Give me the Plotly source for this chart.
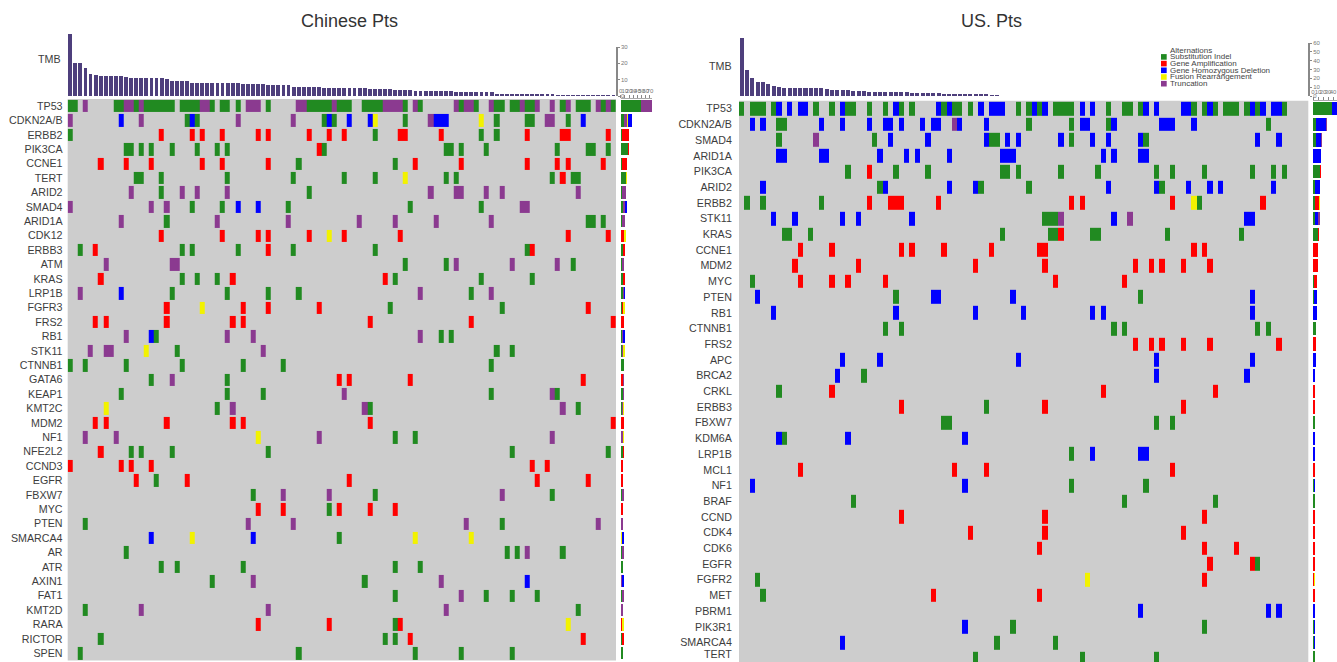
import numpy as np
import plotly.graph_objects as go

TYPE_NAMES = ["Substitution Indel", "Gene Amplification", "Gene Homozygous Deletion", "Fusion Rearrangement", "Truncation"]
TYPE_COLORS = ["#218a21", "#ff0000", "#0000ff", "#f2f200", "#8b3a90"]

CN_GENES = ["TP53", "CDKN2A/B", "ERBB2", "PIK3CA", "CCNE1", "TERT", "ARID2", "SMAD4", "ARID1A", "CDK12", "ERBB3", "ATM", "KRAS",
            "LRP1B", "FGFR3", "FRS2", "RB1", "STK11", "CTNNB1", "GATA6", "KEAP1", "KMT2C", "MDM2", "NF1", "NFE2L2", "CCND3",
            "EGFR", "FBXW7", "MYC", "PTEN", "SMARCA4", "AR", "ATR", "AXIN1", "FAT1", "KMT2D", "RARA", "RICTOR", "SPEN"]
CN_TMB = [37.7, 20.4, 20.4, 17, 13.5, 12.7, 12.3, 12.3, 12.3, 12.3, 12.3, 11.7, 11.2, 11.2, 11.2, 11.2, 11.2, 10.8,
          10.8, 10.2, 9.4, 9, 9, 9, 8, 8, 8, 8, 8, 8, 8, 8, 8, 8, 7.5, 7.5, 7.5, 7.5, 7.2, 6.7, 6.7, 6.7, 6.7, 6.7,
          5.6, 5.6, 5.6, 5.6, 5.6, 5.6, 4.6, 4.6, 4.6, 4.6, 4.6, 4.6, 4.6, 4.6, 4.6, 4.2, 4.2, 4.2, 4.2, 4.2,
          3.8, 3.8, 3.8, 3.8, 3.1, 3.1, 3.1, 3.1, 3.1, 3.1, 3.1, 3.1, 2.5, 2.5, 2.5, 2.5, 2.5, 2.5, 2.5, 2.5,
          1.3, 1.3, 1.3, 1.3, 1.3, 1.3, 1.3, 1.3, 1.3, 1.3, 1.3, 1.3,
          0.4, 0.4, 0.4, 0.4, 0.4, 0.4, 0.4, 0.4, 0.4, 0.4, 0.4, 0.4]
CN_SUB = {
    "TP53": [0, 1, 9, 10, 13, 15, 16, 17, 18, 19, 20, 22, 23, 24, 25, 28, 30, 31, 33, 39, 47, 48, 49, 50, 51, 53, 54, 55, 58, 59, 60, 61, 66, 69, 77, 80, 84, 85, 87, 88, 90, 91, 97, 100, 101, 102, 105, 107],
    "CDKN2A/B": [23, 25, 50, 52, 66, 84, 90, 91, 98],
    "ERBB2": [0, 60, 81, 84],
    "PIK3CA": [11, 12, 14, 16, 20, 25, 29, 31, 50, 74, 75, 77, 82, 96, 102, 103, 106],
    "CCNE1": [45, 64],
    "TERT": [13, 14, 18, 31, 44, 54, 60, 74, 76, 95, 99, 100],
    "ARID2": [18, 47],
    "SMAD4": [24, 30, 43, 67, 81],
    "ARID1A": [19, 102, 103, 105],
    "ERBB3": [2, 22, 24, 33, 44, 60, 90],
    "ATM": [66, 74, 99],
    "KRAS": [22, 25, 29, 64, 81, 91],
    "LRP1B": [20, 31, 39, 45, 79],
    "FGFR3": [63, 85],
    "RB1": [17, 73, 75],
    "STK11": [21, 84, 87],
    "CTNNB1": [0, 3, 11, 22, 34, 42, 83],
    "GATA6": [16, 31],
    "KEAP1": [10, 31, 38, 83, 96],
    "KMT2C": [29, 59, 100],
    "NF1": [64, 68],
    "NFE2L2": [12, 14, 20, 39, 87, 106],
    "EGFR": [17],
    "FBXW7": [36, 60, 95],
    "MYC": [51],
    "PTEN": [3, 85],
    "SMARCA4": [53],
    "AR": [11, 86, 88, 97],
    "ATR": [18, 21, 34, 64, 69],
    "AXIN1": [28, 58],
    "FAT1": [64, 82, 87, 92],
    "KMT2D": [3, 100],
    "RARA": [64],
    "RICTOR": [6, 62, 64],
    "SPEN": [2, 45, 68, 77, 87],
}
CN_AMP = {
    "ERBB2": [18, 24, 26, 30, 37, 39, 47, 51, 54, 65, 66, 73, 90, 97, 98, 106],
    "PIK3CA": [49],
    "CCNE1": [6, 11, 16, 26, 30, 39, 68, 77, 90, 96, 98, 105],
    "TERT": [97],
    "CDK12": [18, 30, 37, 39, 47, 54, 65, 98, 106],
    "ERBB3": [5, 39, 91],
    "KRAS": [6, 32, 62],
    "FGFR3": [19, 34, 39, 49, 102],
    "FRS2": [5, 7, 19, 32, 34, 59, 79, 107],
    "GATA6": [53, 55, 67, 101],
    "MDM2": [5, 7, 19, 32, 34, 59, 107],
    "NFE2L2": [6],
    "CCND3": [0, 10, 12, 16, 91, 94],
    "EGFR": [13, 23, 55, 92, 102],
    "MYC": [37, 42, 53, 59, 64],
    "RARA": [37, 51, 65],
    "RICTOR": [67, 101],
}
CN_DEL = {
    "CDKN2A/B": [10, 24, 51, 55, 59, 72, 73, 74, 101],
    "SMAD4": [33, 37],
    "LRP1B": [10],
    "RB1": [16],
    "SMARCA4": [16, 36],
    "AXIN1": [90],
}
CN_FUS = {
    "CDKN2A/B": [60, 81],
    "TERT": [66],
    "CDK12": [51],
    "FGFR3": [26],
    "STK11": [15],
    "KMT2C": [7],
    "NF1": [37],
    "SMARCA4": [24, 68, 79],
    "RARA": [98],
}
CN_TRUNC = {
    "TP53": [3, 11, 12, 14, 26, 27, 35, 36, 37, 45, 46, 52, 62, 63, 64, 65, 68, 76, 78, 79, 83, 89, 92, 95, 98, 104, 106],
    "CDKN2A/B": [0, 14, 33, 44, 71, 94, 95],
    "ARID2": [12, 22, 25, 31, 71, 76, 77, 82, 85, 100],
    "SMAD4": [0, 16, 19, 89, 90],
    "ARID1A": [10, 29, 43, 57, 64, 72, 83],
    "ATM": [7, 20, 21, 76, 87, 96],
    "LRP1B": [2, 69, 83],
    "RB1": [11, 31, 36, 69],
    "STK11": [4, 7, 8, 38],
    "GATA6": [20],
    "KEAP1": [54, 95],
    "KMT2C": [32, 58, 97],
    "NF1": [3, 9, 49, 95],
    "FBXW7": [42, 51, 85],
    "PTEN": [35, 44, 78, 104],
    "AR": [90],
    "AXIN1": [36, 73],
    "FAT1": [77],
    "KMT2D": [14, 39, 74],
}

US_GENES = ["TP53", "CDKN2A/B", "SMAD4", "ARID1A", "PIK3CA", "ARID2", "ERBB2", "STK11", "KRAS", "CCNE1", "MDM2", "MYC", "PTEN",
            "RB1", "CTNNB1", "FRS2", "APC", "BRCA2", "CRKL", "ERBB3", "FBXW7", "KDM6A", "LRP1B", "MCL1", "NF1", "BRAF", "CCND",
            "CDK4", "CDK6", "EGFR", "FGFR2", "MET", "PBRM1", "PIK3R1", "SMARCA4", "TERT"]
US_TMB = [66, 30, 20, 15.5, 15.5, 14, 11, 10.6, 9.4, 9.2, 8.7, 8.7, 8.7, 8.7, 8.7, 8.7, 8.4, 7.2, 7.2, 6.6, 6.6,
          5.5, 5.5, 5.3, 4.6, 4.6, 4.6, 4.6, 4.6, 4.6, 4.6, 4.6, 3.6, 3.6, 3.6, 3.6, 3.6, 3.6, 2, 2, 2, 2, 2, 2,
          1.8, 1.8, 1.8, 1.2, 0.9, 0.3, 0.3, 0.3, 0.3, 0.3, 0.3, 0.3, 0.3, 0.3, 0.3, 0.3, 0.3, 0.3, 0.3, 0.3, 0.3,
          0.3, 0.3, 0.3, 0.3, 0.3, 0.3, 0.3, 0.3, 0.3, 0.3, 0.3, 0.3, 0.3, 0.3, 0.3, 0.3, 0.3, 0.3, 0.3, 0.3, 0.3,
          0.3, 0.3, 0.3, 0.3, 0.3, 0.3, 0.3, 0.3, 0.3, 0.3, 0.3, 0.3, 0.3, 0.3, 0.3, 0.3, 0.3, 0.3, 0.3, 0.3, 0.3]
US_SUB = {
    "TP53": [0, 2, 3, 4, 6, 14, 17, 20, 21, 24, 27, 30, 32, 38, 40, 41, 43, 52, 54, 56, 59, 60, 61, 62, 69, 72, 73, 75, 85, 87, 89, 91, 92, 93, 95, 97, 102],
    "CDKN2A/B": [7, 8, 54, 62, 69, 99],
    "SMAD4": [7, 25, 47, 48, 62, 76],
    "PIK3CA": [20, 29, 35, 49, 50, 52, 60, 67, 78, 81, 87, 96, 100, 102],
    "ARID2": [26, 45, 54, 79],
    "ERBB2": [1, 4, 15, 86],
    "STK11": [57, 58, 59],
    "KRAS": [8, 9, 13, 49, 58, 59, 66, 67, 80, 94],
    "MYC": [2],
    "PTEN": [29, 75],
    "CTNNB1": [27, 30, 70, 72, 97, 99],
    "BRCA2": [23],
    "CRKL": [7],
    "ERBB3": [46],
    "FBXW7": [38, 39, 78, 81],
    "KDM6A": [8],
    "LRP1B": [62],
    "NF1": [62, 76],
    "BRAF": [21, 72, 89],
    "EGFR": [97],
    "FGFR2": [3],
    "MET": [4],
    "PIK3R1": [51, 87],
    "SMARCA4": [48, 59],
    "TERT": [44, 64, 78],
}
US_AMP = {
    "PIK3CA": [24],
    "ERBB2": [24, 28, 29, 30, 37, 62, 64, 81, 98],
    "KRAS": [60],
    "CCNE1": [11, 17, 30, 32, 38, 47, 56, 57, 85, 87],
    "MDM2": [10, 22, 44, 57, 74, 77, 79, 83, 88],
    "MYC": [11, 17, 20, 27, 59, 72],
    "FRS2": [74, 77, 79, 83, 88, 101],
    "CRKL": [17, 68, 89],
    "ERBB3": [30, 57, 83],
    "MCL1": [11, 40, 46, 81],
    "CCND": [30, 57, 87],
    "CDK4": [43, 57, 83],
    "CDK6": [56, 87, 93],
    "EGFR": [88, 96],
    "FGFR2": [87],
    "MET": [36, 56],
}
US_DEL = {
    "TP53": [7, 9, 11, 12, 19, 29, 37, 39, 45, 47, 48, 49, 55, 57, 64, 66, 76, 78, 83, 84, 88, 96, 98, 100, 101],
    "CDKN2A/B": [2, 4, 15, 19, 24, 27, 28, 30, 34, 36, 37, 41, 46, 64, 65, 70, 79, 80, 81, 85],
    "SMAD4": [28, 35, 46, 50, 52, 60, 66, 69, 75, 97, 101],
    "ARID1A": [7, 8, 15, 16, 26, 31, 33, 39, 49, 50, 51, 68, 70, 75, 76],
    "ARID2": [4, 27, 39, 44, 69, 78, 84, 88, 90, 100],
    "STK11": [6, 10, 19, 22, 32, 70, 95, 96],
    "PTEN": [3, 36, 37, 51, 96],
    "RB1": [6, 29, 44, 53, 66, 68, 96],
    "APC": [19, 26, 52, 78, 96],
    "BRCA2": [18, 78, 95],
    "KDM6A": [7, 20, 42],
    "LRP1B": [66, 75, 76],
    "NF1": [2, 42],
    "PBRM1": [75, 99, 101],
    "PIK3R1": [42],
    "SMARCA4": [19],
}
US_FUS = {"ERBB2": [85], "FGFR2": [65]}
US_TRUNC = {"CDKN2A/B": [40], "SMAD4": [14], "STK11": [60, 73]}

CN_STACK_ORDER = [0, 1, 4, 3, 2]
US_STACK_ORDER = [0, 1, 2, 3, 4]

W, H = 1337, 662
GREY = "#cdcdcd"
TEXT = "#3d3d3d"
FONT = "Liberation Sans"


def xd(a, b):
    return [a / W, b / W]


def yd(top, bottom):
    return [1 - bottom / H, 1 - top / H]


fig = go.Figure()
layout = {}
shapes = []
annotations = []


def panel(base, genes, tmb, type_maps, stack_order, xpx, grid_y, row_h, tmb_y, tmb_max, tick_y, tick_max, tick_vals,
          side_x, side_max, title, title_x, label_x, label_ticklen, tmb_label_y):
    n_cols = len(tmb)
    n_rows = len(genes)
    z = np.full((n_rows, n_cols), np.nan)
    for code, mp in enumerate(type_maps):
        for gene, cols in mp.items():
            z[genes.index(gene), cols] = code
    ax = {k: base + i for i, k in enumerate(["heat", "tmb", "tick", "side"])}
    names = {k: ("x" + (str(v) if v > 1 else ""), "y" + (str(v) if v > 1 else "")) for k, v in ax.items()}
    lay = lambda s: s[0] + "axis" + s[1:]

    scale = []
    for i in range(5):
        scale += [[i / 5, TYPE_COLORS[i]], [(i + 1) / 5, TYPE_COLORS[i]]]
    fig.add_trace(go.Heatmap(z=z, x=list(range(n_cols)), y=list(range(n_rows)), colorscale=scale, zmin=-0.5, zmax=4.5,
                             showscale=False, xgap=0, ygap=2, hoverongaps=False, xaxis=names["heat"][0], yaxis=names["heat"][1]))
    y_range = [(grid_y[1] - grid_y[0]) / row_h - 0.5, -0.5]
    centers = [grid_y[0] + (i + 0.5) * row_h for i in range(n_rows)]
    shown = [i for i in range(n_rows) if centers[i] < H - 6]
    layout[lay(names["heat"][0])] = dict(domain=xd(*xpx), range=[-0.5, n_cols - 0.5], anchor=names["heat"][1],
                                         showticklabels=False, showgrid=False, zeroline=False, ticks="")
    layout[lay(names["heat"][1])] = dict(domain=yd(*grid_y), range=y_range, anchor=names["heat"][0], tickmode="array",
                                         tickvals=shown, ticktext=[genes[i] for i in shown], ticks="outside",
                                         ticklen=label_ticklen, tickcolor="rgba(0,0,0,0)",
                                         tickfont=dict(size=10.7, color=TEXT, family=FONT),
                                         showgrid=False, zeroline=False)
    for i in range(n_rows):
        if i not in shown:
            annotations.append(dict(xref="paper", yref="paper", x=(label_x + 0.5) / W, y=1 - (H - 1) / H, text=genes[i],
                                    showarrow=False, xanchor="right", yanchor="bottom", borderpad=0,
                                    font=dict(size=10.7, color=TEXT, family=FONT)))
    shapes.append(dict(type="rect", xref=names["heat"][0] + " domain", yref=names["heat"][1] + " domain",
                       x0=0, x1=1, y0=0, y1=1, fillcolor=GREY, line_width=0, layer="below"))

    fig.add_trace(go.Bar(x=list(range(n_cols)), y=tmb, marker=dict(color="#4e3f7c", line_width=0),
                         xaxis=names["tmb"][0], yaxis=names["tmb"][1], showlegend=False))
    layout[lay(names["tmb"][0])] = dict(domain=xd(*xpx), range=[-0.5, n_cols - 0.5], anchor=names["tmb"][1],
                                        showticklabels=False, showgrid=False, zeroline=False, ticks="")
    layout[lay(names["tmb"][1])] = dict(domain=yd(*tmb_y), range=[0, tmb_max], anchor=names["tmb"][0],
                                        showticklabels=False, showgrid=False, zeroline=False, ticks="")

    fig.add_trace(go.Scatter(x=[0], y=[0], mode="none", hoverinfo="skip", showlegend=False,
                             xaxis=names["tick"][0], yaxis=names["tick"][1]))
    layout[lay(names["tick"][0])] = dict(domain=xd(*xpx), range=[-0.5, n_cols - 0.5], anchor=names["tick"][1], visible=False)
    layout[lay(names["tick"][1])] = dict(domain=yd(*tick_y), range=[0, tick_max], anchor=names["tick"][0], side="right",
                                         tickmode="array", tickvals=tick_vals, ticks="outside", ticklen=2,
                                         tickcolor="#888888", showline=True, linecolor="#888888", linewidth=1.5,
                                         showgrid=False, zeroline=False,
                                         tickfont=dict(size=6, color="#777777", family=FONT))

    for code in stack_order:
        mp = type_maps[code]
        counts = [len(mp.get(g, [])) for g in genes]
        fig.add_trace(go.Bar(x=counts, y=list(range(n_rows)), orientation="h", width=0.86,
                             marker=dict(color=TYPE_COLORS[code], line_width=0),
                             xaxis=names["side"][0], yaxis=names["side"][1], showlegend=False, name=TYPE_NAMES[code]))
    layout[lay(names["side"][0])] = dict(domain=xd(*side_x), range=[0, side_max], anchor=names["side"][1], side="top",
                                         dtick=10, tick0=0, tickangle=0, ticks="outside", ticklen=3, tickcolor="#888888",
                                         showline=True, linecolor="#aaaaaa", linewidth=1, showgrid=False, zeroline=False,
                                         tickfont=dict(size=6, color="#777777", family=FONT))
    layout[lay(names["side"][1])] = dict(domain=yd(*grid_y), range=y_range, anchor=names["side"][0],
                                         showticklabels=False, showgrid=False, zeroline=False, ticks="")

    annotations.append(dict(xref="paper", yref="paper", x=title_x / W, y=1 - 21 / H, text=title, showarrow=False,
                            xanchor="center", yanchor="middle", font=dict(size=18, color="#333333", family=FONT)))
    annotations.append(dict(xref="paper", yref="paper", x=(label_x + 1) / W, y=1 - tmb_label_y / H, text="TMB",
                            showarrow=False, xanchor="right", yanchor="middle", font=dict(size=10.7, color=TEXT, family=FONT)))


panel(1, CN_GENES, CN_TMB, [CN_SUB, CN_AMP, CN_DEL, CN_FUS, CN_TRUNC], CN_STACK_ORDER, (67.7, 616), (98.9, 660.5), 14.4,
      (34, 96), 38, (47, 96), 30, [0, 10, 20, 30], (620.7, 652), 75, "Chinese Pts", 349.5, 62.5, 2, 59)
panel(5, US_GENES, US_TMB, [US_SUB, US_AMP, US_DEL, US_FUS, US_TRUNC], US_STACK_ORDER, (739, 1308.3), (100.8, 662), 15.7,
      (36.5, 96), 67.4, (43, 96), 60, [0, 10, 20, 30, 40, 50, 60], (1313, 1337), 48, "US. Pts", 991, 733, 4, 66)

LEGEND_TITLE = "Alternations"
LEGEND_ROWS_Y = [56.9, 63.6, 70.3, 77, 83.7]
annotations.append(dict(xref="paper", yref="paper", x=1167.5 / W, y=1 - 50.2 / H, text=LEGEND_TITLE, showarrow=False,
                        xanchor="left", yanchor="middle", font=dict(size=8, color="#444444", family=FONT)))
for name, color, ypx in zip(TYPE_NAMES, TYPE_COLORS, LEGEND_ROWS_Y):
    annotations.append(dict(xref="paper", yref="paper", x=1167.5 / W, y=1 - ypx / H, text=name, showarrow=False,
                            xanchor="left", yanchor="middle", font=dict(size=8, color="#444444", family=FONT)))
    shapes.append(dict(type="rect", xref="paper", yref="paper", x0=1161 / W, x1=1166.7 / W,
                       y0=1 - (ypx + 2.8) / H, y1=1 - (ypx - 2.8) / H, fillcolor=color, line_width=0))

fig.update_layout(width=W, height=H, margin=dict(l=0, r=0, t=0, b=0, pad=0, autoexpand=False), paper_bgcolor="white",
                  plot_bgcolor="rgba(0,0,0,0)", barmode="stack", bargap=0.24, showlegend=False,
                  shapes=shapes, annotations=annotations, **layout)

fig.write_html("out.html", config={"displayModeBar": False},
               post_script="document.body.style.margin='0';document.documentElement.style.overflow='hidden';")
